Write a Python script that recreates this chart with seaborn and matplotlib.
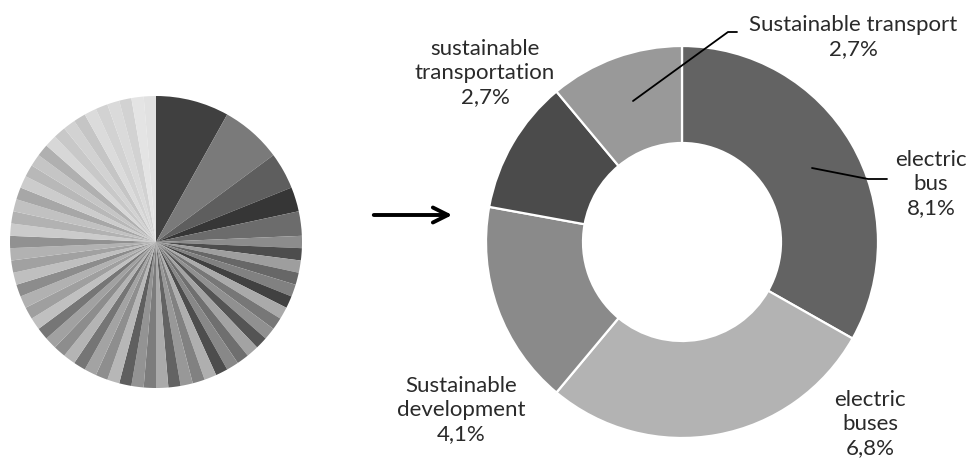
import matplotlib
matplotlib.use("Agg")
import matplotlib.pyplot as plt
import seaborn as sns
import numpy as np

sns.set_theme(style="white")
plt.rcParams['font.family'] = ['Lato', 'DejaVu Sans']

# ---- data ----
# left pie: counts of all keywords (first five are the donut's categories)
left_counts = [6, 5, 3, 2, 2,
               1, 1, 1, 1, 1, 1, 1, 1, 1, 1, 1, 1, 1, 1,
               1, 1, 1, 1, 1, 1, 1, 1, 1, 1, 1, 1, 1, 1,
               1, 1, 1, 1, 1, 1, 1, 1, 1, 1, 1, 1, 1, 1,
               1, 1, 1, 1, 1, 1, 1, 1, 1, 1, 1, 1, 1, 1]

donut_labels = ["electric\nbus", "electric\nbuses", "Sustainable\ndevelopment",
                "sustainable\ntransportation", "Sustainable transport"]
donut_pct = ["8,1%", "6,8%", "4,1%", "2,7%", "2,7%"]
donut_values = [8.1, 6.8, 4.1, 2.7, 2.7]
donut_colors = ["#636363", "#b3b3b3", "#8a8a8a", "#4b4b4b", "#999999"]

# ---- colours for the left pie (grayscale cycle getting lighter) ----
first_colors = ["#404040", "#7a7a7a", "#5e5e5e", "#363636", "#6c6c6c"]
base = [0.55, 0.30, 0.62, 0.40, 0.50, 0.24, 0.66, 0.45]
n_small = len(left_counts) - len(first_colors)
small_colors = []
for i in range(n_small):
    f = i / max(n_small - 1, 1)
    b = base[i % len(base)]
    v = b + (0.93 - b) * (f ** 1.6) * 0.9
    small_colors.append((v, v, v))
left_colors = first_colors + small_colors

W, H = 968, 464
fig = plt.figure(figsize=(W / 100, H / 100), dpi=100)
ax = fig.add_axes([0, 0, 1, 1])

# left pie
ax.pie(left_counts, colors=left_colors, startangle=90, counterclock=False,
       center=(156, H - 243), radius=146,
       wedgeprops=dict(linewidth=0))

# donut
ax.pie(donut_values, colors=donut_colors, startangle=90, counterclock=False,
       center=(682, H - 243), radius=196,
       wedgeprops=dict(width=97, edgecolor="white", linewidth=1.6))

ax.set_xlim(0, W)
ax.set_ylim(0, H)
ax.set_aspect('equal')
ax.axis('off')

# arrow
ax.annotate("", xy=(455, H - 216), xytext=(371, H - 216),
            arrowprops=dict(arrowstyle="->,head_length=0.9,head_width=0.45",
                            color="black", lw=2.8))

tc = "#2a2a2a"
fs = 16

def label(x, y, text):
    ax.text(x, H - y, text, ha="center", va="center", fontsize=fs, color=tc,
            linespacing=1.25)

label(931, 184, donut_labels[0] + "\n" + donut_pct[0])
label(870, 424, donut_labels[1] + "\n" + donut_pct[1])
label(461, 410, donut_labels[2] + "\n" + donut_pct[2])
label(485, 73, donut_labels[3] + "\n" + donut_pct[3])
label(853, 37, donut_labels[4] + "\n" + donut_pct[4])

# leader lines
ax.plot([633, 728, 737], [H - 102, H - 33, H - 33], color="black", lw=1.3)
ax.plot([812, 868, 887], [H - 169, H - 180, H - 180], color="black", lw=1.3)

fig.savefig("out.png", dpi=100, facecolor="white")
